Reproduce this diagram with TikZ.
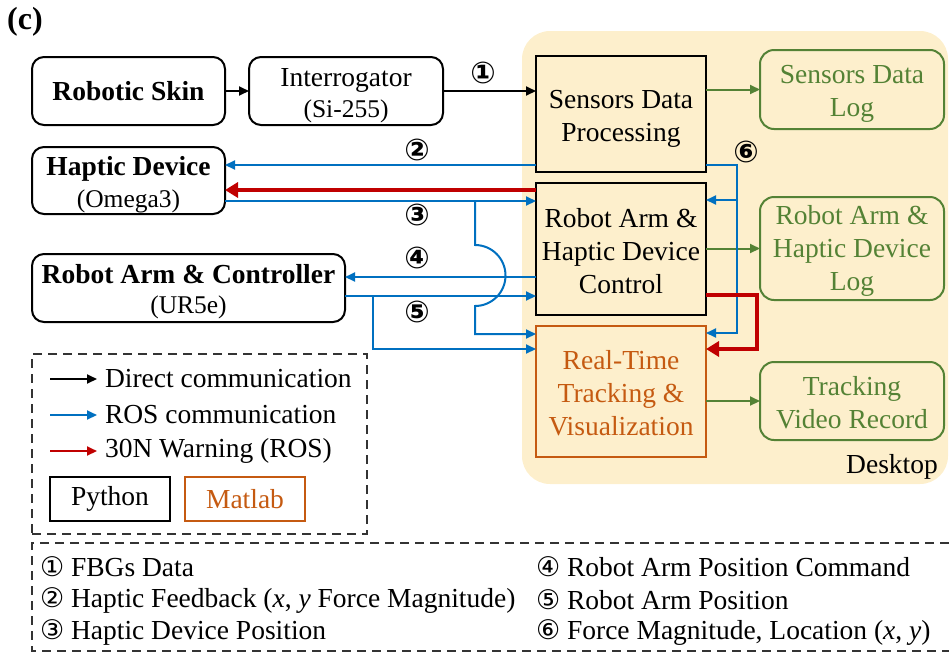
\documentclass[tikz,border=0pt]{standalone}
\usepackage{fontspec}
\setmainfont{Liberation Serif}
\newfontfamily\circfont{DejaVu Sans}
\usetikzlibrary{arrows.meta,calc}
\definecolor{cblue}{HTML}{0070C0}
\definecolor{cred}{HTML}{C00000}
\definecolor{cgreen}{HTML}{548235}
\definecolor{corange}{HTML}{C55A11}
\definecolor{cdesk}{HTML}{FDEFCC}
\newcommand\tstrutA{\rule{0pt}{27pt}}
\newcommand\tstrutB{\rule{0pt}{23pt}}
\newcommand\bcirc[1]{{\circfont\fontsize{27}{27}\selectfont #1}}
\begin{document}
\begin{tikzpicture}[x=1pt,y=-1pt,
  every node/.style={font=\fontsize{27.5}{33}\selectfont, inner sep=0pt, outer sep=0pt},
  rbox/.style={draw, line width=2pt, rounded corners=12pt, align=center},
  sbox/.style={draw, line width=2.4pt, align=center},
  gbox/.style={draw=cgreen, text=cgreen, line width=2pt, rounded corners=14pt, align=center},
  obox/.style={draw=corange, text=corange, line width=2.4pt, align=center},
  blk/.style={line width=1.8pt, -{Triangle[length=10pt,width=9pt]}},
  blu/.style={cblue, line width=2pt, -{Triangle[length=10pt,width=9pt]}},
  redarr/.style={cred, line width=4pt, -{Triangle[length=13pt,width=15pt]}},
  grn/.style={cgreen, line width=2pt, -{Triangle[length=10pt,width=9pt]}},
  num/.style={font=\circfont\bfseries\fontsize{30}{30}\selectfont},
  leg/.style={font=\fontsize{27.5}{33}\selectfont, anchor=west},
  legdash/.style={draw=black!80, line width=1.5pt, dash pattern=on 9pt off 6pt}
]
\useasboundingbox (0,0) rectangle (949,654);
\fill[cdesk, rounded corners=28pt] (522,31) rectangle (948,484);

\node[font=\bfseries\fontsize{32}{32}\selectfont] (lab) at (25,22) {(c)};

\node[rbox, minimum width=193pt, minimum height=68pt, font=\bfseries\fontsize{27.5}{33}\selectfont] (skin) at (128.5,91) {Robotic Skin};
\node[rbox, minimum width=194pt, minimum height=68pt, font=\fontsize{27.5}{31}\selectfont] (intg) at (346,91) {\tstrutA Interrogator\\{\fontsize{25.5}{31}\selectfont (Si-255)}};
\node[sbox, minimum width=170pt, minimum height=116pt] (sdp) at (621,114) {\tstrutA Sensors Data\\Processing};
\node[gbox, minimum width=184pt, minimum height=79pt] (sdl) at (852,89.5) {\tstrutA Sensors Data\\Log};
\node[rbox, minimum width=193pt, minimum height=67pt, font=\fontsize{27.5}{32}\selectfont] (hap) at (128.5,180.5) {\tstrutA\textbf{Haptic Device}\\{\fontsize{25.5}{32}\selectfont (Omega3)}};
\node[sbox, minimum width=170pt, minimum height=132pt] (rahdc) at (621,249) {\tstrutB Robot Arm \&\\Haptic Device\\Control};
\node[gbox, minimum width=184pt, minimum height=103pt] (rahdl) at (852,248.5) {\tstrutB Robot Arm \&\\Haptic Device\\Log};
\node[rbox, minimum width=313pt, minimum height=68pt, font=\fontsize{27.5}{30}\selectfont] (rac) at (188.5,288) {\tstrutA\textbf{Robot Arm \& Controller}\\{\fontsize{25.5}{30}\selectfont (UR5e)}};
\node[obox, minimum width=170pt, minimum height=131pt] (rttv) at (621,391.5) {\tstrutB Real-Time\\Tracking \&\\Visualization};
\node[gbox, minimum width=184pt, minimum height=78pt] (tvr) at (852,401) {\tstrutB Tracking\\Video Record};
\node (desk) at (892,467) {Desktop};

% direct
\draw[blk] (skin.east) -- (intg.west);
\draw[blk] (intg.east) -- (intg.east -| sdp.west);
\node[num] (n1) at (483,73) {①};
% green
\draw[grn] (sdl.west -| sdp.east) -- (sdl.west);
\draw[grn] (rahdl.west -| rahdc.east) -- (rahdl.west);
\draw[grn] (tvr.west -| rttv.east) -- (tvr.west);

% 2
\coordinate (p2) at ([yshift=7pt]sdp.south west);
\draw[blu] (p2) -- (p2 -| hap.east);
\node[num] (n2) at (417,150) {②};
% 3
\coordinate (p3) at ([yshift=-18pt]rahdc.north west);
\draw[blu] (p3 -| hap.east) -- (p3);
\coordinate (b3) at ([xshift=-61pt]p3);
\coordinate (q3) at ([yshift=-8pt]rttv.north west);
\draw[blu] (b3) -- ++(0,44) arc[start angle=90,end angle=-90,radius=30.5pt] -- (b3 |- q3) -- (q3);
\node[num] (n3) at (417,215) {③};
% 4
\coordinate (p4) at ([yshift=11pt]rac.east);
\draw[blu] (p4 -| rahdc.west) -- (p4);
\node[num] (n4) at (417,258) {④};
% 5
\coordinate (p5) at ([yshift=-8pt]rac.east);
\draw[blu] (p5) -- (p5 -| rahdc.west);
\coordinate (b5) at ([xshift=28pt]p5);
\coordinate (q5) at ([yshift=-23pt]rttv.north west);
\draw[blu] (b5) -- (b5 |- q5) -- (q5);
\node[num] (n5) at (417,312) {⑤};
% 6
\coordinate (p6) at ([yshift=7pt]sdp.south east);
\coordinate (c6) at ([xshift=31pt]p6);
\coordinate (q6) at ([yshift=-7pt]rttv.north east);
\coordinate (r6) at ([yshift=-17pt]rahdc.north east);
\draw[blu] (p6) -- (c6) -- (c6 |- q6) -- (q6);
\draw[blu] (c6 |- r6) -- (r6);
\node[num] (n6) at (746,152) {⑥};
% red warnings
\coordinate (pr) at ([yshift=-7pt]rahdc.north west);
\draw[redarr] (pr) -- (pr -| hap.east);
\coordinate (pr2) at ([yshift=20pt]rahdc.south east);
\coordinate (qr2) at ([yshift=-23pt]rttv.north east);
\draw[redarr] (pr2) -- ++(51,0) |- (qr2);

% legend
\node[legdash, minimum width=335pt, minimum height=180pt] (legbox) at (199.5,444) {};
\node[leg] (t1) at (105,379) {Direct communication};
\node[leg] (t2) at (105,415) {ROS communication};
\node[leg] (t3) at (105,451) {30N Warning (ROS)};
\draw[blk] ([xshift=-55pt]t1.west) -- ([xshift=-8pt]t1.west);
\draw[blu] ([xshift=-55pt]t2.west) -- ([xshift=-8pt]t2.west);
\draw[cred, line width=2pt, -{Triangle[length=10pt,width=9pt]}] ([xshift=-55pt]t3.west) -- ([xshift=-8pt]t3.west);
\node[draw, line width=2pt, minimum width=120pt, minimum height=44pt] (py) at (110,499) {Python};
\node[obox, minimum width=120pt, minimum height=44pt] (ml) at (245,499) {Matlab};

% bottom legend
\draw[legdash] (949,543) -- (32,543) -- (32,651) -- (949,651);
\node[leg] (f1) at (40,567) {\bcirc{①} FBGs Data};
\node[leg] (f2) at (40,600) {\bcirc{②} Haptic Feedback (\textit{x}, \textit{y} Force Magnitude)};
\node[leg] (f3) at (40,632) {\bcirc{③} Haptic Device Position};
\node[leg] (f4) at (536,567) {\bcirc{④} Robot Arm Position Command};
\node[leg] (f5) at (536,600) {\bcirc{⑤} Robot Arm Position};
\node[leg] (f6) at (536,632) {\bcirc{⑥} Force Magnitude, Location (\textit{x}, \textit{y})};
\end{tikzpicture}
\end{document}
